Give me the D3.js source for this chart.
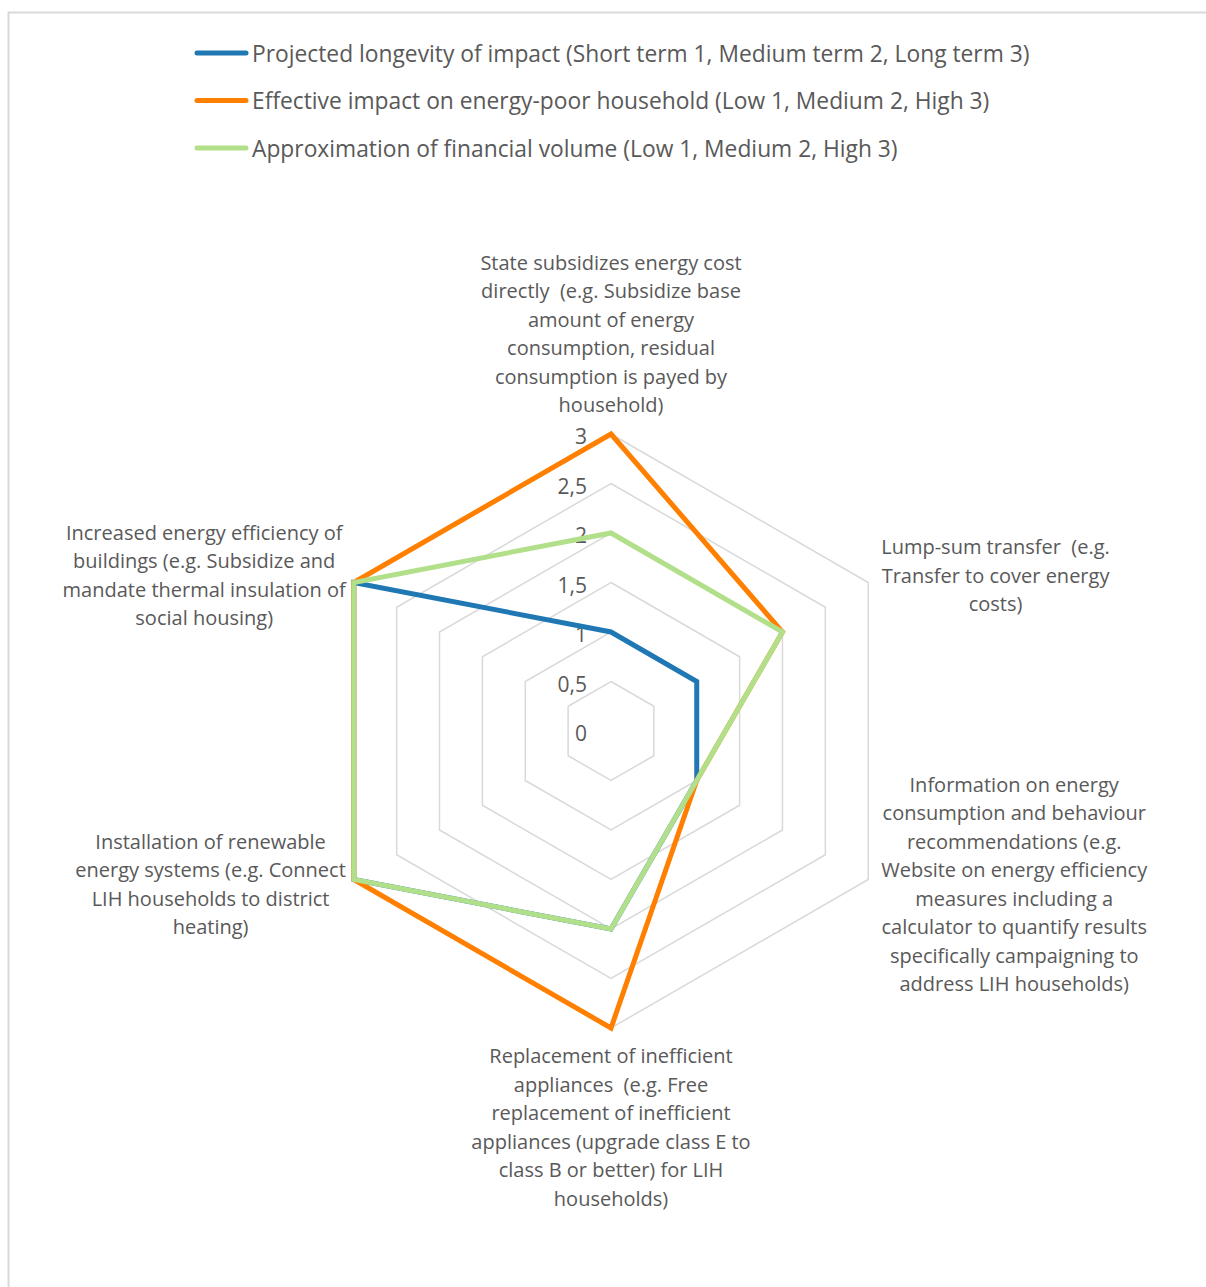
<!DOCTYPE html>
<html>
<head>
<meta charset="utf-8">
<script src="https://cdn.jsdelivr.net/npm/d3@7"></script>
<style>
  html, body { margin: 0; padding: 0; background: #fff; }
  svg { display: block; }
  text { font-family: "Open Sans", "Noto Sans", sans-serif; fill: #595959; white-space: pre; }
</style>
</head>
<body>
<svg id="chart" width="1206" height="1287"></svg>
<script>
// ---- data ----
const categories = [
  ["State subsidizes energy cost", "directly  (e.g. Subsidize base", "amount of energy", "consumption, residual", "consumption is payed by", "household)"],
  ["Lump-sum transfer  (e.g.", "Transfer to cover energy", "costs)"],
  ["Information on energy", "consumption and behaviour", "recommendations (e.g.", "Website on energy efficiency", "measures including a", "calculator to quantify results", "specifically campaigning to", "address LIH households)"],
  ["Replacement of inefficient", "appliances  (e.g. Free", "replacement of inefficient", "appliances (upgrade class E to", "class B or better) for LIH", "households)"],
  ["Installation of renewable", "energy systems (e.g. Connect", "LIH households to district", "heating)"],
  ["Increased energy efficiency of", "buildings (e.g. Subsidize and", "mandate thermal insulation of", "social housing)"]
];
const seriesNames = [
  "Projected longevity of impact (Short term 1, Medium term 2, Long term 3)",
  "Effective impact on energy-poor household (Low 1, Medium 2, High 3)",
  "Approximation of financial volume (Low 1, Medium 2, High 3)"
];
const longevity = [1, 1, 1, 2, 3, 3];
const impact    = [3, 2, 1, 3, 3, 3];
const financial = [2, 2, 1, 2, 3, 3];
const tickValues = [0, 0.5, 1, 1.5, 2, 2.5, 3];
const tickLabels = ["0", "0,5", "1", "1,5", "2", "2,5", "3"];
const colors = ["#1f78b4", "#ff7f00", "#b2df8a"];

// ---- layout ----
const svg = d3.select("#chart");
const cx = 611, cy = 731;
const r = d3.scaleLinear().domain([0, 3]).range([0, 297]);
const angle = d3.scaleLinear().domain([0, categories.length]).range([0, 2 * Math.PI]);
const pt = (i, v) => [cx + r(v) * Math.sin(angle(i)), cy - r(v) * Math.cos(angle(i))];

// border
svg.append("rect").attr("x", 8.5).attr("y", 12.5).attr("width", 1220).attr("height", 1300)
  .attr("fill", "none").attr("stroke", "#d9d9d9").attr("stroke-width", 2);

// grid
const gridLine = d3.line().curve(d3.curveLinearClosed);
svg.append("g").selectAll("path").data(tickValues.filter(v => v > 0)).join("path")
  .attr("d", v => gridLine(categories.map((c, i) => pt(i, v))))
  .attr("fill", "none").attr("stroke", "#d9d9d9").attr("stroke-width", 1.5);

// tick labels
svg.append("g").selectAll("text").data(tickValues).join("text")
  .attr("x", cx - 24).attr("y", v => cy - r(v) + 2)
  .attr("text-anchor", "end").attr("dominant-baseline", "central")
  .attr("font-size", 21).text((v, i) => tickLabels[i]);

// series
const series = [longevity, impact, financial];
svg.append("g").selectAll("path").data(series).join("path")
  .attr("d", s => gridLine(s.map((v, i) => pt(i, v))))
  .attr("fill", "none").attr("stroke", (s, i) => colors[i])
  .attr("stroke-width", 5).attr("stroke-linejoin", "miter");

// category labels
const lh = 28.5, fs = 20;
categories.forEach((lines, i) => {
  const [vx, vy] = pt(i, 3);
  const g = svg.append("g");
  const t = g.append("text").attr("font-size", fs).attr("text-anchor", "middle");
  t.selectAll("tspan").data(lines).join("tspan").attr("x", 0).attr("dy", (d, k) => k === 0 ? 0 : lh).text(d => d);
  let w = 0;
  t.selectAll("tspan").each(function() { w = Math.max(w, this.getComputedTextLength()); });
  const n = lines.length;
  const s = Math.sin(angle(i)), c = Math.cos(angle(i));
  let x, yTop;
  if (Math.abs(s) < 0.01) {
    x = vx;
    if (c > 0) yTop = vy - 16 - (n - 1) * lh - 6;
    else yTop = vy + 16 + 19;
  } else {
    x = vx + (s > 0 ? (13 + w / 2) : -(8 + w / 2));
    const mid = vy + (c > 0 ? -6 : 6);
    yTop = mid - (n - 1) * lh / 2 + 6;
  }
  t.attr("transform", `translate(${x},${yTop})`);
});

// legend
const lg = svg.append("g");
seriesNames.forEach((name, i) => {
  const y = 53 + i * 47.5;
  lg.append("line").attr("x1", 197).attr("x2", 246).attr("y1", y).attr("y2", y)
    .attr("stroke", colors[i]).attr("stroke-width", 5).attr("stroke-linecap", "round");
  lg.append("text").attr("x", 252).attr("y", y).attr("dominant-baseline", "central")
    .attr("font-size", 22.8).text(name);
});
</script>
</body>
</html>
